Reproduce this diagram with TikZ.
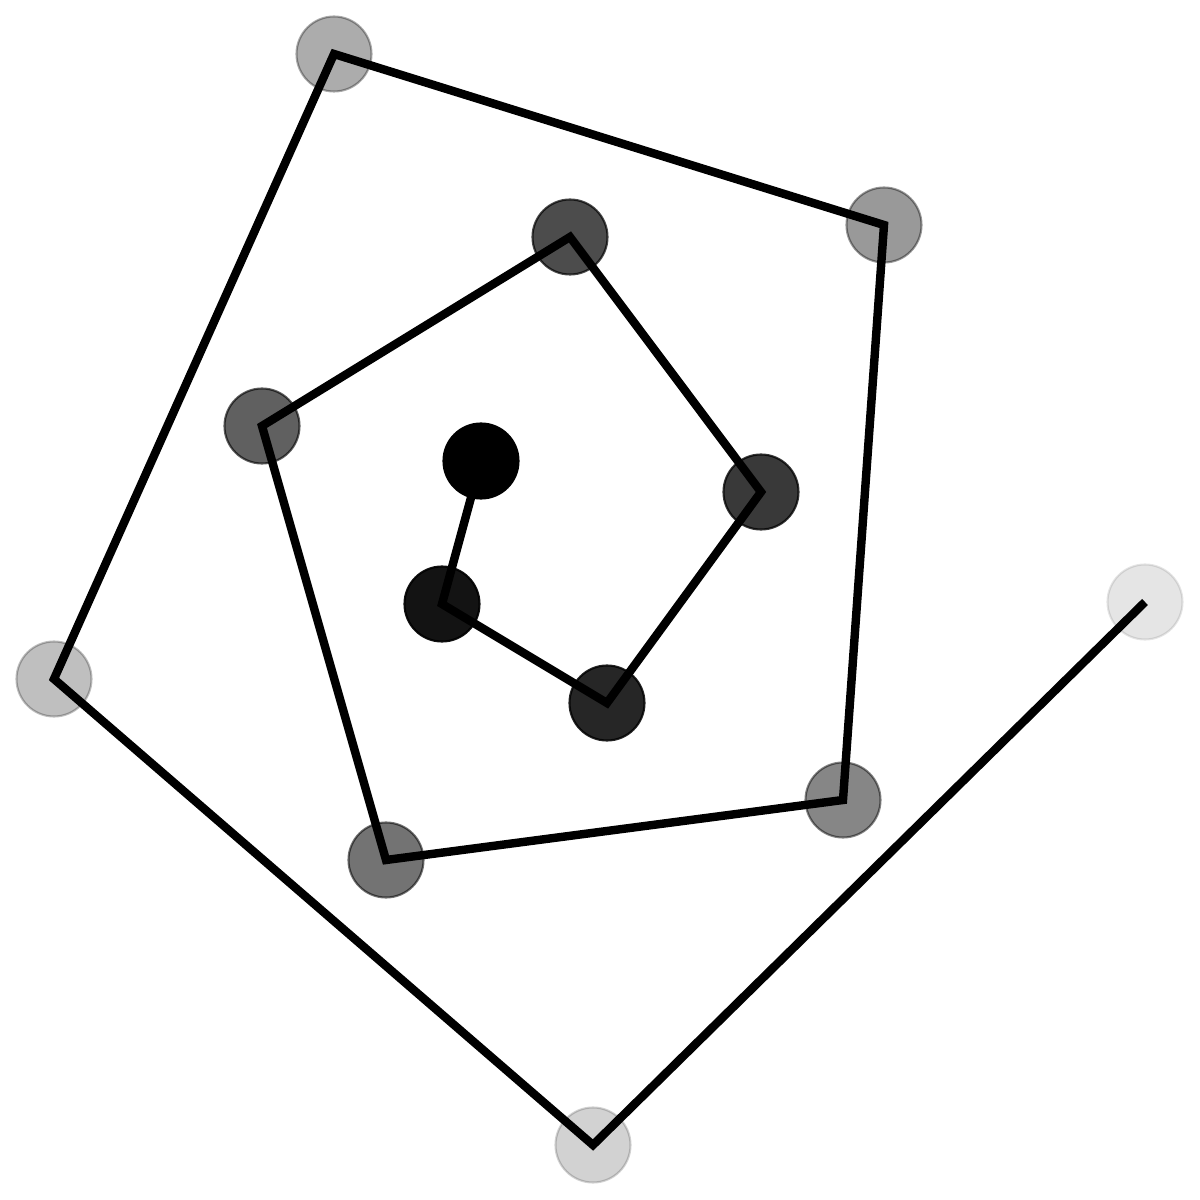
\documentclass[tikz,border=0pt]{standalone}
\usepackage{amsmath}
\usepackage{amssymb}

\begin{document}
\begin{tikzpicture}
    \useasboundingbox (0,0) rectangle (12,12);

    % Define the points of the spiral
    \foreach \i/\x/\y in {1/4.81/7.39, 2/4.42/5.96, 3/6.07/4.97, 4/7.61/7.08,
        5/5.70/9.63, 6/2.62/7.74, 7/3.86/3.40, 8/8.43/4.00, 9/8.84/9.75,
        10/3.34/11.46, 11/0.54/5.21, 12/5.93/0.55, 13/11.45/5.98} {
        \coordinate (P\i) at (\x,\y);
    }

    % Draw the dots, fading out along the spiral
    \foreach \i in {1,...,13} {
        \pgfmathsetmacro{\op}{1.075-0.075*\i}
        \fill[black, opacity=\op] (P\i) circle (0.375);
        \draw[black, opacity=\op, line width=0.6pt] (P\i) circle (0.375);
    }

    % Draw the spiral through the dots
    \draw[line width=2.4pt, miter limit=10] (P1) -- (P2) -- (P3) -- (P4) -- (P5) -- (P6) -- (P7)
        -- (P8) -- (P9) -- (P10) -- (P11) -- (P12) -- (P13);

\end{tikzpicture}
\end{document}
